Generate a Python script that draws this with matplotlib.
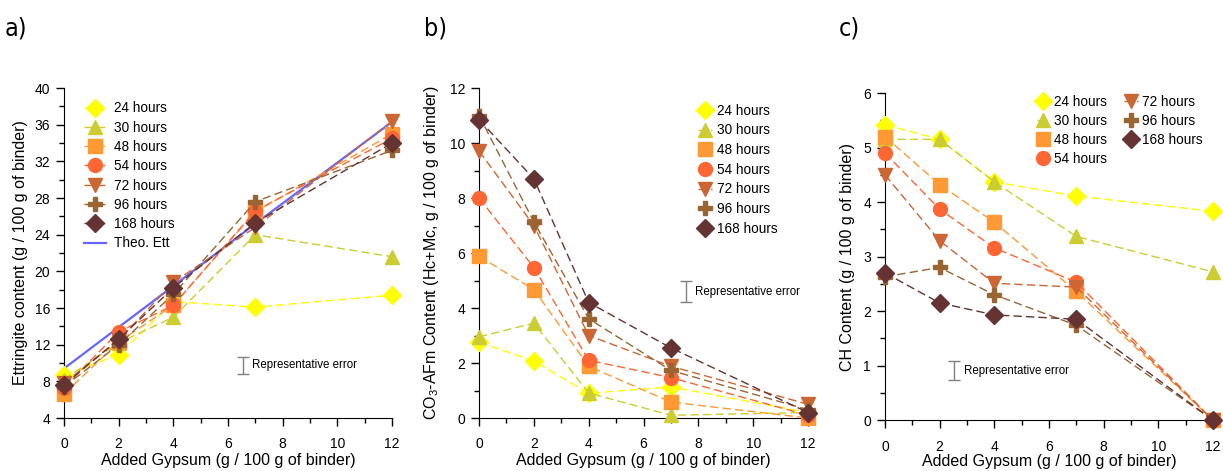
import matplotlib
matplotlib.use("Agg")
import matplotlib.pyplot as plt
from matplotlib.ticker import MultipleLocator

plt.rcParams['font.family'] = ['Liberation Sans', 'DejaVu Sans']
plt.rcParams['mathtext.default'] = 'regular'

gypsum = [0, 2, 4, 7, 12]
labels = ['24 hours', '30 hours', '48 hours', '54 hours', '72 hours', '96 hours', '168 hours']
colors = ['#FFFF00', '#CCCC33', '#FF9933', '#FF6633', '#CC6633', '#996633', '#663333']
markers = ['D', '^', 's', 'o', 'v', 'P', 'D']
msizes = [9, 10, 9.5, 10, 10, 10.5, 9]

# a) ettringite content
ett_24 = [8.7, 10.9, 16.7, 16.1, 17.4]
ett_30 = [8.2, 12.2, 15.0, 24.0, 21.6]
ett_48 = [6.6, 12.3, 16.3, 26.5, 35.0]
ett_54 = [7.3, 13.4, 16.3, 26.6, 34.5]
ett_72 = [7.8, 12.5, 18.8, 24.8, 36.4]
ett_96 = [7.4, 12.0, 17.5, 27.6, 33.2]
ett_168 = [7.6, 12.6, 18.2, 25.3, 34.0]
ett_theo = [9.4, 13.9, 18.4, 25.2, 36.3]

# b) CO3-AFm content
afm_24 = [2.76, 2.07, 0.90, 1.13, 0.20]
afm_30 = [2.95, 3.45, 0.91, 0.10, 0.20]
afm_48 = [5.88, 4.67, 1.88, 0.58, 0.00]
afm_54 = [8.00, 5.47, 2.10, 1.47, 0.10]
afm_72 = [9.71, 7.00, 3.00, 1.88, 0.50]
afm_96 = [11.0, 7.13, 3.61, 1.73, 0.30]
afm_168 = [10.85, 8.70, 4.20, 2.55, 0.20]

# c) CH content
ch_24 = [5.42, 5.15, 4.37, 4.11, 3.83]
ch_30 = [5.15, 5.15, 4.37, 3.37, 2.72]
ch_48 = [5.20, 4.32, 3.63, 2.36, 0.0]
ch_54 = [4.90, 3.87, 3.16, 2.53, 0.0]
ch_72 = [4.50, 3.29, 2.51, 2.44, 0.0]
ch_96 = [2.63, 2.80, 2.30, 1.74, 0.0]
ch_168 = [2.70, 2.15, 1.93, 1.85, 0.0]

# representative error bars: (x, y, half-height)
err_a = (6.54, 9.75, 0.9)
err_b = (7.54, 4.6, 0.37)
err_c = (2.54, 0.91, 0.17)

fig = plt.figure(figsize=(12.23, 4.71), dpi=100)
ax_a = fig.add_axes([0.0523, 0.1125, 0.2682, 0.7005])
ax_b = fig.add_axes([0.3917, 0.1125, 0.2690, 0.7005])
ax_c = fig.add_axes([0.7236, 0.108, 0.2682, 0.6945])

LEG_FS = 9.8


def draw_series(ax, series):
    handles = []
    for ys, lab, col, mk, ms in zip(series, labels, colors, markers, msizes):
        h, = ax.plot(gypsum, ys, color=col, marker=mk, markersize=ms, lw=1,
                     dashes=(6, 3), label=lab, clip_on=False, zorder=3)
        handles.append(h)
    return handles


def style_axis(ax, ymax, ymin, ymaj, ymin_step):
    ax.set_xlim(0, 12)
    ax.set_ylim(ymin, ymax)
    ax.spines['top'].set_visible(False)
    ax.spines['right'].set_visible(False)
    ax.xaxis.set_major_locator(MultipleLocator(2))
    ax.xaxis.set_minor_locator(MultipleLocator(1))
    ax.yaxis.set_major_locator(MultipleLocator(ymaj))
    ax.yaxis.set_minor_locator(MultipleLocator(ymin_step))
    ax.tick_params(which='major', length=6, width=1, labelsize=10, pad=8)
    ax.tick_params(which='minor', length=3.5, width=1)
    ax.tick_params(axis='y', which='major', pad=4)
    ax.set_xlabel('Added Gypsum (g / 100 g of binder)', fontsize=11.5, labelpad=1)


def rep_error(ax, err):
    x, y, h = err
    ax.errorbar([x], [y], yerr=[h], color='#808080', lw=1, capsize=4, capthick=1)
    ax.text(x + 0.35, y, 'Representative error', fontsize=8.3, va='center', ha='left')


# panel a
hs = draw_series(ax_a, [ett_24, ett_30, ett_48, ett_54, ett_72, ett_96, ett_168])
th, = ax_a.plot(gypsum, ett_theo, color='#6666FF', lw=1.6, label='Theo. Ett', zorder=2)
style_axis(ax_a, 40, 4, 4, 2)
ax_a.set_ylabel('Ettringite content (g / 100 g of binder)', fontsize=11.5)
rep_error(ax_a, err_a)
ax_a.legend(handles=hs + [th], loc='upper left', bbox_to_anchor=(0.061, 0.96),
            frameon=False, fontsize=LEG_FS, handlelength=1.6, handletextpad=0.6,
            labelspacing=0.39, borderpad=0, borderaxespad=0)

# panel b
hs = draw_series(ax_b, [afm_24, afm_30, afm_48, afm_54, afm_72, afm_96, afm_168])
style_axis(ax_b, 12, 0, 2, 1)
ax_b.set_ylabel('CO$_3$-AFm Content (Hc+Mc, g / 100 g of binder)', fontsize=11.5)
rep_error(ax_b, err_b)
ax_b.legend(handles=hs, loc='upper left', bbox_to_anchor=(0.666, 0.953),
            frameon=False, fontsize=LEG_FS, handlelength=1.0, handletextpad=0.4,
            labelspacing=0.42, borderpad=0, borderaxespad=0)

# panel c
hs = draw_series(ax_c, [ch_24, ch_30, ch_48, ch_54, ch_72, ch_96, ch_168])
style_axis(ax_c, 6, 0, 1, 0.5)
ax_c.set_ylabel('CH Content (g / 100 g of binder)', fontsize=11.5)
ax_c.xaxis.labelpad = 0
rep_error(ax_c, err_c)
ax_c.legend(handles=hs, loc='upper left', bbox_to_anchor=(0.462, 0.995), ncol=2,
            frameon=False, fontsize=LEG_FS, handlelength=1.0, handletextpad=0.32,
            labelspacing=0.38, columnspacing=1.25, borderpad=0, borderaxespad=0)

ax_a.yaxis.set_label_coords(-0.11, 0.5)
ax_b.yaxis.set_label_coords(-0.115, 0.5)
ax_c.yaxis.set_label_coords(-0.09, 0.5)

for lab, xpos in zip(['a)', 'b)', 'c)'], [0.004, 0.347, 0.686]):
    fig.text(xpos, 0.965, lab, fontsize=18, va='top', ha='left',
             family='DejaVu Sans', fontstretch='condensed')

fig.savefig('out.png', dpi=100)
